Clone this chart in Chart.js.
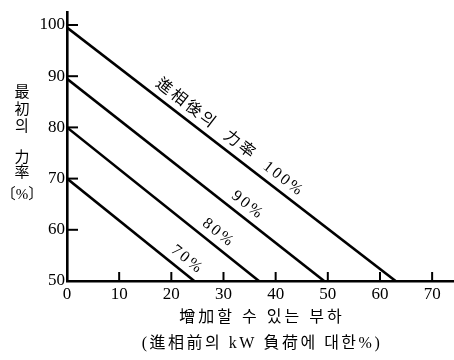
<!DOCTYPE html>
<html lang="ko">
<head>
  <meta charset="UTF-8">
  <title>進相後의 力率</title>
  <script src="https://cdn.jsdelivr.net/npm/chart.js"></script>
  <style>
    html, body { margin: 0; padding: 0; background: #fff; }
    #wrap { width: 454px; height: 360px; }
  </style>
</head>
<body>
<div id="wrap"><canvas id="pfChart"></canvas></div>
<script>
  // chart values
  const lineNames = ['進相後의  力率  100%', '90%', '80%', '70%'];
  const loadX = [[0, 63], [0, 49.3], [0, 36.8], [0, 24.4]];   // 增加할 수 있는 부하 (%)
  const pfY = [[99.5, 50], [89.5, 50], [80, 50], [70, 50]];   // 最初의 力率 (%)
  const xTicks = [0, 10, 20, 30, 40, 50, 60, 70];
  const yTicks = [50, 60, 70, 80, 90, 100];
  const yTitle = ['最', '初', '의', '', '力', '率', '〔%〕'];
  const xTitle = ['增加할 수 있는 부하', '(進相前의 kW 負荷에 대한%)'];

  const FONT = '"Liberation Serif", "Noto Sans CJK KR", serif';

  const datasets = lineNames.map((name, i) => ({
    label: name,
    data: loadX[i].map((x, j) => ({ x: x, y: pfY[i][j] })),
    borderColor: '#000',
    borderWidth: 2.6,
    pointRadius: 0,
    fill: false
  }));

  // label places along each line (data x of label centre, offset above line in px)
  const labelAt = [29.8, 33.2, 27.6, 21.6];
  const labelOff = [14, 14, 14, 14];

  const decorPlugin = {
    id: 'decor',
    afterDatasetsDraw(chart) {
      const ctx = chart.ctx;
      const xs = chart.scales.x, ys = chart.scales.y;
      const area = chart.chartArea;
      ctx.save();
      ctx.strokeStyle = '#000';
      ctx.lineWidth = 2;
      // inward tick marks
      yTicks.forEach(v => {
        if (v === 50) return;
        const py = ys.getPixelForValue(v);
        ctx.beginPath();
        ctx.moveTo(area.left, py);
        ctx.lineTo(area.left + 11, py);
        ctx.stroke();
      });
      xTicks.forEach(v => {
        if (v === 0) return;
        const px = xs.getPixelForValue(v);
        ctx.beginPath();
        ctx.moveTo(px, area.bottom);
        ctx.lineTo(px, area.bottom - 9);
        ctx.stroke();
      });

      // labels along the lines
      ctx.fillStyle = '#000';
      ctx.textAlign = 'center';
      ctx.textBaseline = 'alphabetic';
      ctx.letterSpacing = '2.5px';
      ctx.font = '16px ' + FONT;
      lineNames.forEach((name, i) => {
        const x1 = xs.getPixelForValue(loadX[i][0]), y1 = ys.getPixelForValue(pfY[i][0]);
        const x2 = xs.getPixelForValue(loadX[i][1]), y2 = ys.getPixelForValue(pfY[i][1]);
        const ang = Math.atan2(y2 - y1, x2 - x1);
        const px = xs.getPixelForValue(labelAt[i]);
        const t = (px - x1) / (x2 - x1);
        const py = y1 + t * (y2 - y1);
        ctx.save();
        ctx.translate(px, py);
        ctx.rotate(ang);
        ctx.fillText(name, 0, -labelOff[i] + 6);
        ctx.restore();
      });

      // y title, stacked characters
      ctx.letterSpacing = '0px';
      ctx.font = '15px ' + FONT;
      ctx.textBaseline = 'middle';
      const ty = [93, 110, 127, 0, 158, 173, 195];
      yTitle.forEach((c, i) => {
        if (!c) return;
        ctx.fillText(c, 22, ty[i]);
      });

      // x title, two lines
      ctx.letterSpacing = '3px';
      ctx.font = '16px ' + FONT;
      const cx = (area.left + area.right) / 2;
      ctx.fillText(xTitle[0], cx + 2, 318);
      ctx.letterSpacing = '2.5px';
      ctx.fillText(xTitle[1], cx + 2, 344);
      ctx.restore();
    }
  };

  new Chart(document.getElementById('pfChart'), {
    type: 'line',
    data: { datasets: datasets },
    plugins: [decorPlugin],
    options: {
      responsive: true,
      maintainAspectRatio: false,
      animation: false,
      layout: { padding: { top: 5, right: 1, left: 0, bottom: 0 } },
      plugins: { legend: { display: false }, tooltip: { enabled: false } },
      scales: {
        x: {
          type: 'linear',
          min: 0,
          max: 74,
          afterBuildTicks: s => { s.ticks = xTicks.map(v => ({ value: v })); },
          afterFit: s => { s.height = 79; },
          grid: { display: false, drawTicks: false },
          border: { display: true, color: '#000', width: 2.6 },
          ticks: { color: '#000', padding: 3, maxRotation: 0, font: { family: FONT, size: 17 } }
        },
        y: {
          type: 'linear',
          min: 50,
          max: 102.5,
          afterBuildTicks: s => { s.ticks = yTicks.map(v => ({ value: v })); },
          afterFit: s => { s.width = 67; },
          grid: { display: false, drawTicks: false },
          border: { display: true, color: '#000', width: 2.6 },
          ticks: { color: '#000', padding: 2, font: { family: FONT, size: 17 } }
        }
      }
    }
  });
</script>
</body>
</html>
